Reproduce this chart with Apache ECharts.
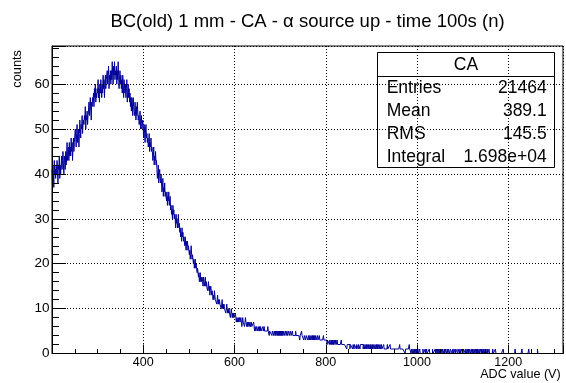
<!DOCTYPE html>
<html>
<head>
<meta charset="utf-8">
<script src="https://cdn.jsdelivr.net/npm/echarts@6/dist/echarts.min.js"></script>
<style>
html, body { margin: 0; padding: 0; background: #fff; }
#chart { width: 566px; height: 383px; }
</style>
</head>
<body>
<div id="chart"></div>
<script>
// Histogram: 1 ADC unit per bin, first bin starts at 200
const binLow = 200;
const binWidth = 1;

// Bin contents, one array per 100 ADC units
const counts200 = [
  41,38,42,40,37,43,40,41,39,42, 40,43,41,38,42,41,44,39,42,40,
  42,44,41,43,45,42,40,44,43,41, 45,42,44,47,43,45,46,43,47,44,
  46,44,48,45,47,43,46,48,45,47, 47,50,48,46,49,51,47,48,50,46,
  49,52,50,48,51,50,53,49,51,52, 51,53,52,55,50,53,52,54,51,53,
  54,56,53,55,57,54,52,56,55,57, 56,58,55,59,57,60,56,58,57,59
];
const counts300 = [
  58,61,57,59,56,60,58,61,59,57, 60,58,62,59,61,57,60,62,59,61,
  61,63,60,62,64,59,62,61,63,60, 63,61,65,62,60,64,62,65,61,63,
  62,64,60,63,61,65,62,59,61,63, 60,62,59,61,58,62,60,57,61,59,
  58,60,57,59,61,56,58,60,57,59, 56,58,55,57,54,57,56,53,57,55,
  55,53,56,54,52,55,53,56,54,52, 53,51,52,54,50,52,53,50,51,52
];
const counts400 = [
  50,48,51,49,47,50,51,48,49,47, 48,46,47,49,45,47,46,48,45,46,
  45,43,44,46,42,44,43,45,42,43, 41,39,40,42,38,40,41,39,38,40,
  38,36,37,39,35,37,36,38,35,36, 35,34,36,33,35,34,36,33,34,35,
  32,33,31,32,30,33,31,32,30,31, 30,28,31,29,30,28,29,31,28,29,
  27,28,26,27,25,28,26,27,25,26, 25,24,26,24,23,25,24,25,23,24
];
const counts500 = [
  23,22,23,21,22,24,22,21,22,21, 20,21,19,20,21,19,20,19,18,19,
  18,17,18,16,17,18,16,17,16,17, 16,15,17,16,15,16,17,15,16,15,
  15,14,15,16,14,15,13,14,15,14, 13,14,13,12,13,12,14,13,12,12,
  12,11,12,13,11,12,11,12,11,11, 11,10,11,12,10,11,10,11,10,10,
  10,9,10,11,10,9,10,9,10,9, 9,8,9,10,9,8,9,8,9,8
];
const counts600 = [
  8,8,9,8,7,8,8,7,8,7, 7,8,7,7,8,7,6,7,8,7,
  7,7,6,7,8,7,7,6,7,6, 6,7,6,6,7,6,6,7,6,6,
  6,6,7,6,5,6,6,5,6,6, 6,5,6,6,5,6,5,6,5,5,
  5,5,6,5,5,6,5,5,5,5, 5,5,5,6,5,5,4,5,5,5,
  5,5,4,5,5,5,4,5,5,4, 5,4,5,5,4,5,4,5,4,5
];
const counts700 = [
  4,5,4,5,4,5,4,4,5,4, 4,4,5,4,4,5,4,4,4,5,
  4,4,4,5,4,4,4,5,4,4, 4,4,4,4,5,4,4,4,4,4,
  4,4,4,3,4,4,4,5,4,4, 4,4,3,4,4,4,3,4,4,4,
  4,3,4,4,3,4,4,3,4,4, 3,4,3,4,3,4,3,3,4,3,
  3,3,4,3,3,3,4,3,3,3, 3,3,3,3,3,4,3,3,3,3
];
const counts800 = [
  3,3,3,2,3,3,3,3,2,3, 3,2,3,2,3,2,3,2,2,3,
  2,2,3,2,2,3,2,2,2,2, 2,2,2,2,3,2,2,2,2,2,
  2,2,2,2,2,2,1,2,2,2, 2,2,2,1,2,2,2,2,2,1,
  2,2,1,2,2,2,2,1,2,2, 2,1,2,2,2,1,2,2,2,2,
  2,2,1,2,2,1,2,2,1,2, 1,2,2,1,2,2,1,2,1,2
];
const counts900 = [
  2,1,2,1,2,2,1,1,2,1, 1,2,1,2,1,1,2,1,1,2,
  1,1,2,1,1,1,1,2,1,1, 1,1,1,1,1,2,1,1,1,1,
  1,2,1,1,1,1,1,1,1,1, 1,1,1,1,1,1,1,1,1,1,
  1,1,2,1,1,1,1,1,1,1, 1,1,1,1,0,1,1,1,1,1,
  1,1,1,2,1,1,1,0,1,1, 0,1,1,0,1,0,0,1,0,1
];
const counts1000 = [
  0,0,1,0,0,0,1,0,0,0, 0,0,0,1,0,0,0,0,1,0,
  0,1,0,0,0,0,0,1,0,0, 0,0,0,0,1,0,0,0,0,0,
  1,0,0,1,0,1,0,1,1,0, 1,1,0,1,1,0,1,1,1,0,
  1,0,1,1,1,0,1,1,0,1, 1,1,0,1,1,1,1,0,1,1,
  0,1,1,1,0,1,1,1,1,0, 1,1,1,0,1,1,0,1,1,1
];
const counts1100 = [
  1,0,1,1,1,1,0,1,1,0, 1,1,0,1,0,1,1,1,0,1,
  1,0,1,1,0,1,1,0,1,1, 0,1,0,1,1,0,1,0,0,1,
  1,0,1,0,0,1,0,1,0,0, 0,1,0,0,1,0,0,0,1,0,
  0,0,0,0,0,0,1,0,0,0, 0,0,1,0,0,0,0,0,0,0,
  0,0,0,0,0,0,0,0,0,1, 0,0,0,0,0,0,0,0,0,0
];
const counts1200 = [
  0,0,0,0,0,0,0,0,0,0, 0,0,0,0,0,1,0,0,0,0,
  0,0,0,0,0,0,0,0,0,0, 1,0,0,0,0,0,0,0,0,0,
  0,0,0,0,0,1,0,0,0,0, 0,0,0,0,0,0,0,0,0,0,
  0,0,0,0,1,0,0,0,0,0, 0,0,0,0,0,0,0,0,0,0,
  0,0,0,0,0,0,0,0,0,0, 0,0,0,0,0,0,0,0,0,0,
  0,0,0,0,0,0,0,0,0,0, 0,0,0,0,0,0,0,0,0,0
];

const xTickLabels = [400, 600, 800, 1000, 1200];
const yTickLabels = [0, 10, 20, 30, 40, 50, 60];

const histTitle = 'BC(old) 1 mm - CA - \u03b1 source up - time 100s (n)';
const xTitle = 'ADC value (V)';
const yTitle = 'counts';
const statsTitle = 'CA';
const statsNames = ['Entries', 'Mean', 'RMS', 'Integral'];
const statsValues = ['21464', '389.1', '145.5', '1.698e+04'];

// Step outline: each point is a bin's low edge, plus the closing high edge
const counts = [].concat(counts200, counts300, counts400, counts500, counts600,
  counts700, counts800, counts900, counts1000, counts1100, counts1200);
const stepData = counts.map((c, i) => [binLow + i * binWidth, c]);
stepData.push([binLow + counts.length * binWidth, counts[counts.length - 1]]);
const xMax = binLow + counts.length * binWidth;

const FONT = '"Liberation Sans", Arial, Helvetica, sans-serif';
const black = '#000';
const gridDots = { show: true, lineStyle: { color: black, width: 1, type: [1, 2] } };

const statsTop = 52.5, statsLeft = 377.5, statsW = 177, statsH = 115;
const rowY = [88.5, 111.3, 134.1, 156.9];

const statsChildren = [
  { type: 'rect', shape: { x: statsLeft, y: statsTop, width: statsW, height: statsH },
    style: { fill: '#fff', stroke: black, lineWidth: 1 } },
  { type: 'line', shape: { x1: statsLeft, y1: 76.5, x2: statsLeft + statsW, y2: 76.5 },
    style: { stroke: black, lineWidth: 1 } },
  { type: 'text', x: 466, y: 65,
    style: { text: statsTitle, fontSize: 17.5, fontFamily: FONT, fill: black,
             align: 'center', verticalAlign: 'middle', textAlign: 'center', textVerticalAlign: 'middle' } }
];
statsNames.forEach((name, i) => {
  statsChildren.push({ type: 'text', x: 386.7, y: rowY[i],
    style: { text: name, fontSize: 17.5, fontFamily: FONT, fill: black,
             align: 'left', verticalAlign: 'middle', textAlign: 'left', textVerticalAlign: 'middle' } });
  statsChildren.push({ type: 'text', x: 546.7, y: rowY[i],
    style: { text: statsValues[i], fontSize: 17.5, fontFamily: FONT, fill: black,
             align: 'right', verticalAlign: 'middle', textAlign: 'right', textVerticalAlign: 'middle' } });
});

const chart = echarts.init(document.getElementById('chart'), null, { renderer: 'canvas' });
chart.setOption({
  animation: false,
  backgroundColor: '#fff',
  grid: { left: 52, top: 46, width: 511, height: 307.5, show: true,
          borderColor: black, borderWidth: 1, backgroundColor: 'transparent' },
  xAxis: [
    { type: 'value', min: binLow, max: xMax, interval: 200, position: 'bottom', z: 5,
      axisLine: { show: true, onZero: false, lineStyle: { color: black, width: 1 } },
      axisTick: { show: true, inside: true, length: 9, lineStyle: { color: black, width: 1 } },
      axisLabel: { show: true, margin: 3, fontSize: 12.5, fontFamily: FONT, color: black,
                   formatter: v => (xTickLabels.indexOf(v) >= 0 ? String(v) : '') },
      splitLine: gridDots },
    { type: 'value', min: binLow, max: xMax, interval: 50, position: 'bottom', z: 5,
      axisLine: { show: false, onZero: false },
      axisTick: { show: true, inside: true, length: 4.5, lineStyle: { color: black, width: 1 } },
      axisLabel: { show: false }, splitLine: { show: false } }
  ],
  yAxis: [
    { type: 'value', min: 0, max: 68.5, interval: 10, position: 'left', z: 5,
      axisLine: { show: true, onZero: false, lineStyle: { color: black, width: 1 } },
      axisTick: { show: true, inside: true, length: 14, lineStyle: { color: black, width: 1 } },
      axisLabel: { show: true, margin: 2.5, fontSize: 13.5, fontFamily: FONT, color: black,
                   formatter: v => (yTickLabels.indexOf(v) >= 0 ? String(v) : '') },
      splitLine: gridDots },
    { type: 'value', min: 0, max: 68.5, interval: 2, position: 'left', z: 5,
      axisLine: { show: false, onZero: false },
      axisTick: { show: true, inside: true, length: 7, lineStyle: { color: black, width: 1 } },
      axisLabel: { show: false }, splitLine: { show: false } }
  ],
  series: [{
    type: 'line', xAxisIndex: 0, yAxisIndex: 0, data: stepData, step: 'end',
    symbol: 'none', showSymbol: false, silent: true, clip: true,
    lineStyle: { color: '#00009a', width: 1 }
  }],
  graphic: [
    { type: 'text', x: 307.5, y: 22, z: 100,
      style: { text: histTitle, fontSize: 18.5, fontFamily: FONT, fill: black,
               align: 'center', verticalAlign: 'middle', textAlign: 'center', textVerticalAlign: 'middle' } },
    { type: 'text', x: 17, y: 50, rotation: Math.PI / 2, z: 100,
      style: { text: yTitle, fontSize: 12.8, fontFamily: FONT, fill: black,
               align: 'right', verticalAlign: 'middle', textAlign: 'right', textVerticalAlign: 'middle' } },
    { type: 'text', x: 560.7, y: 375, z: 100,
      style: { text: xTitle, fontSize: 12.6, fontFamily: FONT, fill: black,
               align: 'right', verticalAlign: 'middle', textAlign: 'right', textVerticalAlign: 'middle' } },
    { type: 'group', z: 100, children: statsChildren }
  ]
});
</script>
</body>
</html>
